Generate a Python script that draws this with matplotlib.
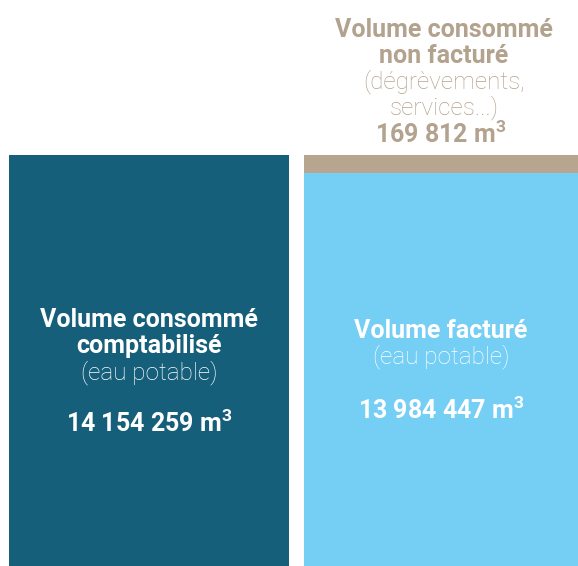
import numpy as np
import matplotlib.pyplot as plt

# données (m3)
categories = ['Volume consommé comptabilisé', 'Volume facturé', 'Volume consommé non facturé']
comptabilise = [14154259]
facture = [13984447]
non_facture = [169812]

col_dark = '#165f7a'
col_light = '#75cef4'
col_tan = '#b8a58f'
txt_tan = '#b3a28e'

def fmt(v):
    return f'{v:,}'.replace(',', ' ') + r' m$^{\mathbf{3}}$'

plt.rcParams['font.family'] = ['Roboto', 'DejaVu Sans']
plt.rcParams['mathtext.fontset'] = 'custom'
plt.rcParams['mathtext.bf'] = 'Roboto:bold'
plt.rcParams['mathtext.rm'] = 'Roboto:bold'

W, H = 578, 566
fig = plt.figure(figsize=(W / 100, H / 100), dpi=100)
# axes en pixels : de y=566 (bas) à y=155 (haut des barres)
ax = fig.add_axes([0, 0, 1, (H - 155) / H])

total = comptabilise[0]
f = facture[0]
# échelle par morceaux pour rendre visible la petite part non facturée
k = 393 / 411

def fwd(y):
    y = np.asarray(y, dtype=float)
    return np.where(y <= f, y / f * k, k + (y - f) / (total - f) * (1 - k))

def inv(u):
    u = np.asarray(u, dtype=float)
    return np.where(u <= k, u / k * f, f + (u - k) / (1 - k) * (total - f))

ax.set_yscale('function', functions=(fwd, inv))
ax.set_ylim(0, total)
ax.set_xlim(0, W)

ax.bar([9], comptabilise, width=280, align='edge', color=col_dark, linewidth=0)
ax.bar([304], facture, width=274, align='edge', color=col_light, linewidth=0)
ax.bar([304], non_facture, bottom=facture, width=274, align='edge', color=col_tan, linewidth=0)
ax.axis('off')

def t(x, y, s, color, weight='bold', size=18):
    fig.text(x / W, 1 - y / H, s, ha='center', va='center', color=color,
             fontsize=size, fontweight=weight)

def light(x, y, s, color):
    t(x, y, s, color, weight='light', size=17.5)

# barre gauche
t(149, 320, 'Volume consommé', 'white')
t(149, 346, 'comptabilisé', 'white')
light(149, 373, '(eau potable)', 'white')
t(149, 423, fmt(comptabilise[0]), 'white')

# barre droite
t(441, 331, 'Volume facturé', 'white')
light(441, 357, '(eau potable)', 'white')
t(441, 410, fmt(facture[0]), 'white')

# au-dessus
t(444, 30, 'Volume consommé', txt_tan)
t(444, 56, 'non facturé', txt_tan)
light(444, 82, '(dégrèvements,', txt_tan)
light(444, 108, 'services...)', txt_tan)
t(441, 134, fmt(non_facture[0]), txt_tan)

fig.savefig('out.png', dpi=100)
